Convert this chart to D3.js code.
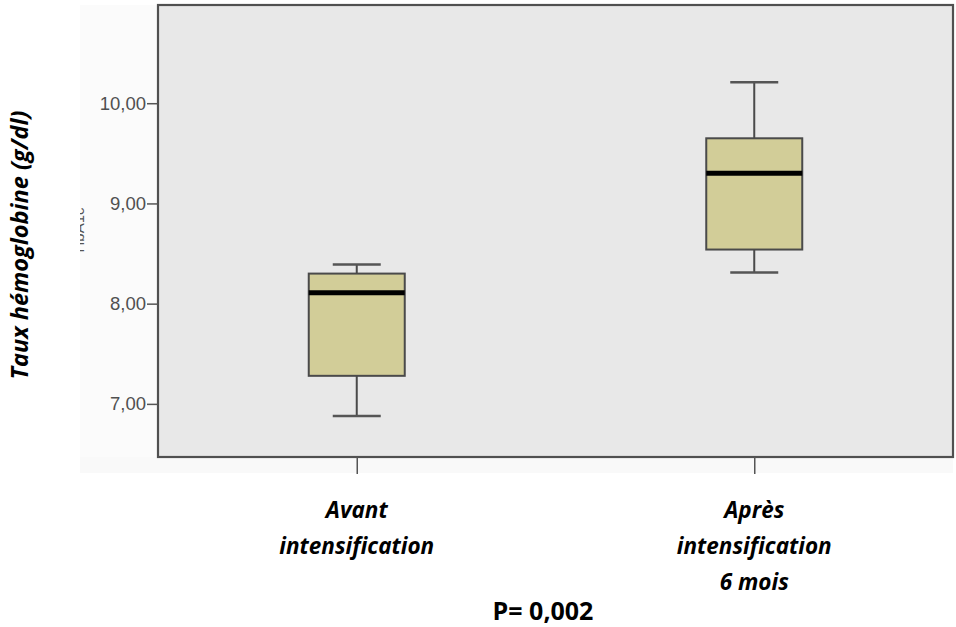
<!DOCTYPE html>
<html>
<head>
<meta charset="utf-8">
<script src="https://cdn.jsdelivr.net/npm/d3@7"></script>
<style>
  html, body { margin: 0; padding: 0; background: #ffffff; }
  svg { display: block; }
</style>
</head>
<body>
<svg id="chart" width="956" height="627"></svg>
<script>
// ---- data ----
const categories = ["Avant intensification", "Après intensification 6 mois"];
const categoryLabelLines = [["Avant", "intensification"], ["Après", "intensification", "6 mois"]];
const whiskerLow  = [6.88, 8.31];
const q1Values    = [7.28, 8.54];
const medianValues = [8.11, 9.30];
const q3Values    = [8.30, 9.65];
const whiskerHigh = [8.39, 10.21];
const yTickValues = [7, 8, 9, 10];
const yAxisTitle = "Taux hémoglobine (g/dl)";
const pValueText = "P= 0,002";

// ---- layout ----
const W = 956, H = 627;
const plot = { left: 158, right: 953, top: 5, bottom: 457 };
const svg = d3.select("#chart");

const x = d3.scalePoint().domain(categories).range([plot.left, plot.right]).padding(0.5);
const y = d3.scaleLinear().domain([6.47, 10.98]).range([plot.bottom, plot.top]);

const boxW = x.step() * 0.2415;
const capW = boxW * 0.5;

// faint strip left of / below plot (cropped original figure)
svg.append("rect").attr("x", 80).attr("y", plot.top).attr("width", plot.left - 80)
  .attr("height", 470 - plot.top).attr("fill", "#fbfbfb");
svg.append("rect").attr("x", 80).attr("y", plot.bottom).attr("width", plot.right - 80)
  .attr("height", 16).attr("fill", "#f9f9f9");

// remnant of the original cropped axis title
svg.append("clipPath").attr("id", "remClip").append("rect")
  .attr("x", 80).attr("y", 0).attr("width", 10).attr("height", H);
svg.append("g").attr("clip-path", "url(#remClip)")
  .append("text")
  .attr("transform", "translate(83.5,230) rotate(-90)")
  .attr("text-anchor", "middle")
  .attr("font-family", "Liberation Sans, Arial, sans-serif")
  .attr("font-size", 15).attr("fill", "#555")
  .text("HbA1c");

// plot background
svg.append("rect").attr("x", plot.left).attr("y", plot.top)
  .attr("width", plot.right - plot.left).attr("height", plot.bottom - plot.top)
  .attr("fill", "#e8e8e8");

// boxes
const g = svg.append("g");
categories.forEach((c, i) => {
  const cx = x(c);
  g.append("line").attr("x1", cx).attr("x2", cx).attr("y1", y(q3Values[i])).attr("y2", y(whiskerHigh[i]))
    .attr("stroke", "#4a4a4a").attr("stroke-width", 2);
  g.append("line").attr("x1", cx).attr("x2", cx).attr("y1", y(q1Values[i])).attr("y2", y(whiskerLow[i]))
    .attr("stroke", "#4a4a4a").attr("stroke-width", 2);
  g.append("line").attr("x1", cx - capW / 2).attr("x2", cx + capW / 2)
    .attr("y1", y(whiskerHigh[i])).attr("y2", y(whiskerHigh[i]))
    .attr("stroke", "#555").attr("stroke-width", 2.5);
  g.append("line").attr("x1", cx - capW / 2).attr("x2", cx + capW / 2)
    .attr("y1", y(whiskerLow[i])).attr("y2", y(whiskerLow[i]))
    .attr("stroke", "#555").attr("stroke-width", 2.5);
  g.append("rect").attr("x", cx - boxW / 2).attr("y", y(q3Values[i]))
    .attr("width", boxW).attr("height", y(q1Values[i]) - y(q3Values[i]))
    .attr("fill", "#d2cd98").attr("stroke", "#4a4a4a").attr("stroke-width", 2);
  g.append("line").attr("x1", cx - boxW / 2).attr("x2", cx + boxW / 2)
    .attr("y1", y(medianValues[i])).attr("y2", y(medianValues[i]))
    .attr("stroke", "#000").attr("stroke-width", 5);
});

// frame
svg.append("rect").attr("x", plot.left).attr("y", plot.top)
  .attr("width", plot.right - plot.left).attr("height", plot.bottom - plot.top)
  .attr("fill", "none").attr("stroke", "#505050").attr("stroke-width", 2.2);

// y axis
const fmt = v => d3.format(".2f")(v).replace(".", ",");
const yAxis = svg.append("g").attr("transform", `translate(${plot.left},0)`)
  .call(d3.axisLeft(y).tickValues(yTickValues).tickFormat(fmt).tickSize(11).tickPadding(1));
yAxis.select(".domain").remove();
yAxis.selectAll(".tick line").attr("stroke", "#555").attr("stroke-width", 1.5);
yAxis.selectAll(".tick text").attr("font-family", "Liberation Sans, Arial, sans-serif")
  .attr("font-size", 18.5).attr("fill", "#505050");

// x axis ticks
const xAxis = svg.append("g").attr("transform", `translate(0,${plot.bottom})`)
  .call(d3.axisBottom(x).tickSize(17).tickFormat(""));
xAxis.select(".domain").remove();
xAxis.selectAll(".tick line").attr("stroke", "#555").attr("stroke-width", 1.5);

// category labels
const labelFont = "'Open Sans', 'Noto Sans', sans-serif";
categories.forEach((c, i) => {
  const t = svg.append("text").attr("text-anchor", "middle")
    .attr("font-family", labelFont).attr("font-weight", "bold").attr("font-style", "italic")
    .attr("font-size", 22.5).attr("fill", "#000");
  categoryLabelLines[i].forEach((ln, j) => {
    t.append("tspan").attr("x", x(c)).attr("y", 518 + j * 36).text(ln);
  });
});

// y axis title
svg.append("text")
  .attr("transform", "translate(28,245) rotate(-90)")
  .attr("text-anchor", "middle")
  .attr("font-family", labelFont).attr("font-weight", "bold").attr("font-style", "italic")
  .attr("font-size", 23.5).attr("fill", "#000")
  .text(yAxisTitle);

// p value
svg.append("text").attr("x", 543).attr("y", 620).attr("text-anchor", "middle")
  .attr("font-family", labelFont).attr("font-weight", "bold")
  .attr("font-size", 25).attr("fill", "#000")
  .text(pValueText);
</script>
</body>
</html>
